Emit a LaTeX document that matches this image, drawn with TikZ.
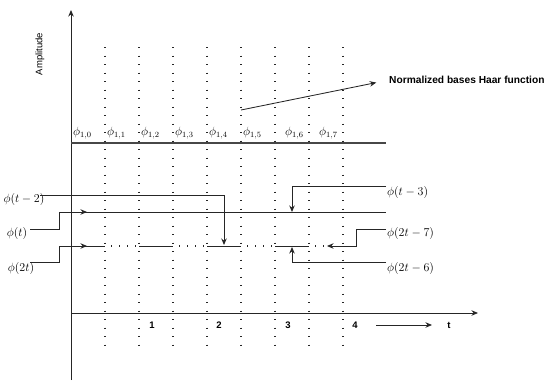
\documentclass[tikz,border=0pt]{standalone}
\usepackage{fontspec}
\newfontfamily\arial{Liberation Sans}
\usetikzlibrary{arrows.meta}
\begin{document}
\begin{tikzpicture}[x=1pt,y=-1pt,
  line/.style={line width=0.85pt, draw=black!85},
  arr/.style={line, -{Stealth[length=6.5pt,width=5.5pt]}},
  dotv/.style={line width=1.4pt, draw=black!85, dash pattern=on 1.4pt off 7.1pt},
  doth/.style={line width=1.4pt, draw=black!85, dash pattern=on 1.4pt off 6.6pt, dash phase=-6pt},
  lab/.style={inner sep=0pt, font=\fontsize{11.5}{13}\selectfont},
  blab/.style={inner sep=0pt, font=\arial\bfseries\fontsize{9.5}{11}\selectfont},
]
\useasboundingbox (0,0) rectangle (550,389);
% axes
\coordinate (ybot) at (71,380);
\coordinate (ytop) at (71,10);
\coordinate (o) at (71,313);
\coordinate (xend) at (478,313);
\draw[arr] (ybot) -- (ytop);
\draw[arr] (o) -- (xend);
\node[rotate=90, inner sep=0pt, font=\arial\fontsize{9.5}{11}\selectfont] (amp) at (40,54) {Amplitude};
% dotted verticals
\foreach \x in {105,139,173,207,241,275,309,343}
  \draw[dotv] (\x,47) -- (\x,350);
% top line
\coordinate (h0) at (71,143);
\coordinate (h1) at (386,143);
\draw[line width=1.1pt, draw=black!72] (h0) -- (h1);
% phi labels
\node[lab, anchor=west] (p10) at (73,133) {$\phi_{1,0}$};
\node[lab, anchor=west] (p11) at (107,133) {$\phi_{1,1}$};
\node[lab, anchor=west] (p12) at (141,133) {$\phi_{1,2}$};
\node[lab, anchor=west] (p13) at (175,133) {$\phi_{1,3}$};
\node[lab, anchor=west] (p14) at (209,133) {$\phi_{1,4}$};
\node[lab, anchor=west] (p15) at (243,133) {$\phi_{1,5}$};
\node[lab, anchor=west] (p16) at (285,133) {$\phi_{1,6}$};
\node[lab, anchor=west] (p17) at (319,133) {$\phi_{1,7}$};
% normalized
\node[inner sep=0pt, font=\arial\bfseries\fontsize{10.2}{12}\selectfont, anchor=west] (norm) at (389,80) {Normalized bases Haar function};
\coordinate (ns) at (241,110);
\draw[arr, shorten >=13pt] (ns) -- (norm.west);
% phi(t) level
\coordinate (a0) at (71,212);
\coordinate (a1) at (386,212);
\draw[line] (a0) -- (a1);
% phi(2t) level
\foreach \x in {71,139,207,275}
  \draw[line] (\x,246) -- ({\x+34},246);
\foreach \x in {105,173,241}
  \draw[doth] (\x,246) -- ({\x+34},246);
\draw[doth] (309,246) -- (326,246);
% left labels
\node[lab] (lt2) at (24,199) {$\phi(t-2)$};
\node[lab] (lt) at (17,233) {$\phi(t)$};
\node[lab] (l2t) at (21,268) {$\phi(2t)$};
\coordinate (c1) at (40,195);
\coordinate (c1e) at (224,245);
\draw[arr] (c1) -| (c1e);
\coordinate (c2) at (30,229);
\coordinate (c2e) at (87,212);
\draw[arr] (c2) -- (59,229) |- (c2e);
\coordinate (c3) at (30,262);
\coordinate (c3e) at (87,246);
\draw[arr] (c3) -- (59,262) |- (c3e);
% right labels
\node[lab, anchor=west] (lt3) at (387,192) {$\phi(t-3)$};
\node[lab, anchor=west] (l2t7) at (387,233) {$\phi(2t-7)$};
\node[lab, anchor=west] (l2t6) at (387,268) {$\phi(2t-6)$};
\coordinate (d1) at (386,186);
\coordinate (d1e) at (292,212);
\draw[arr] (d1) -| (d1e);
\coordinate (d2) at (386,229);
\coordinate (d2e) at (327,246);
\draw[arr] (d2) -- (356,229) |- (d2e);
\coordinate (d3) at (386,262);
\coordinate (d3e) at (292,247);
\draw[arr] (d3) -| (d3e);
% t axis labels
\node[blab] (n1) at (152,325) {1};
\node[blab] (n2) at (219,325) {2};
\node[blab] (n3) at (288,325) {3};
\node[blab] (n4) at (355,325) {4};
\node[blab] (tl) at (449,325) {t};
\coordinate (ta) at (376,325);
\coordinate (tb) at (432,325);
\draw[arr] (ta) -- (tb);
\end{tikzpicture}
\end{document}
